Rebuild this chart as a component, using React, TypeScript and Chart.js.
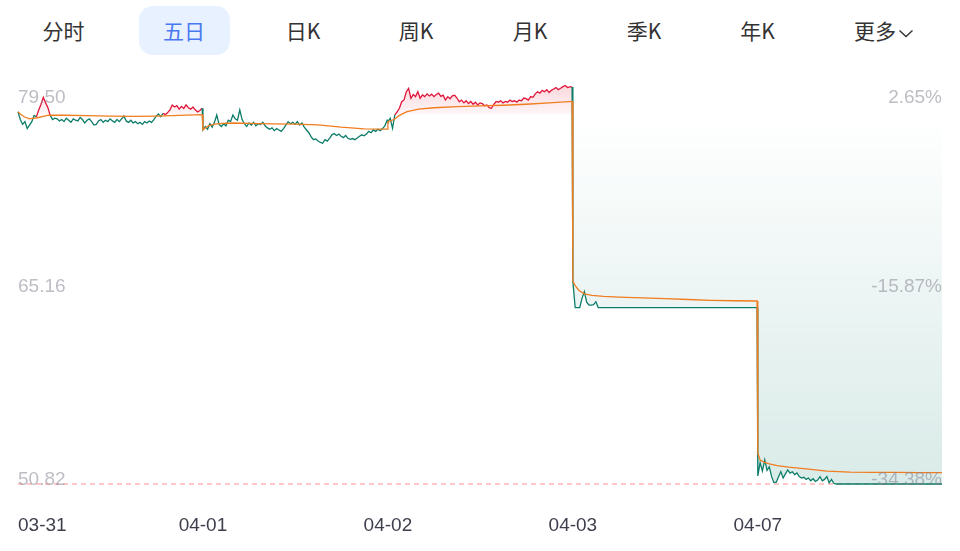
import React, { useEffect, useRef } from 'react';
import { Chart, registerables } from 'chart.js';

Chart.register(...registerables);

// ---------- data ----------
const tabLabels = ['分时', '五日', '日K', '周K', '月K', '季K', '年K', '更多'];
const activeTab = 1;

const dayLabels = ['03-31', '04-01', '04-02', '04-03', '04-07'];
const prevClose = 77.45;
const limitDown = 50.82;
const priceTicks = [79.5, 65.16, 50.82];
const priceTickLabels = ['79.50', '65.16', '50.82'];
const pctTickLabels = ['2.65%', '-15.87%', '-34.38%'];

const minutesPerDay = 241;
const sampleStep = 3; // one price every 3 minutes

const day1Prices = [
  77.61, 77.05, 76.70, 76.90, 76.40, 76.65, 76.90, 77.35, 77.25, 77.74, 78.15, 78.65, 78.25, 77.90, 77.35, 77.05, 77.15,
  77.10, 76.95, 77.05, 76.90, 77.15, 77.00, 76.85, 77.10,
  77.00, 76.95, 77.20, 77.05, 76.80, 77.00, 77.10, 76.90,
  76.65, 76.70, 76.95, 77.05, 76.85, 77.00, 76.90, 77.10,
  76.95, 76.85, 77.05, 76.90, 77.10, 77.30, 76.95, 76.85,
  77.00, 76.80, 76.90, 76.75, 76.85, 76.70, 76.90, 76.80,
  76.95, 76.85, 77.05, 77.30, 77.45, 77.25, 77.50, 77.40,
  77.55, 77.75, 78.10, 77.95, 78.05, 77.80, 78.00, 77.85,
  78.10, 77.90, 77.80, 77.95, 77.75, 77.60, 77.70, 77.86,
];

const day2Prices = [
  76.30, 76.55, 76.35, 76.75, 76.50, 76.85, 77.38, 76.70,
  76.55, 76.75, 76.60, 77.00, 76.90, 77.38, 77.10, 77.00,
  77.74, 77.05, 76.75, 76.55, 76.80, 76.65, 76.85, 76.60,
  76.75, 76.70, 76.85, 76.60, 76.45, 76.35, 76.45, 76.25,
  76.40, 76.30, 76.20, 76.40, 76.65, 76.90, 76.75, 76.85,
  76.70, 76.90, 76.65, 76.80, 76.50, 76.30, 76.10, 75.80,
  75.60, 75.65, 75.50, 75.40, 75.34, 75.60, 75.50, 75.70,
  75.95, 76.05, 75.90, 76.00, 75.85, 75.75, 75.90, 75.70,
  75.62, 75.68, 75.60, 75.72, 75.85, 75.95, 75.88, 76.00,
  76.20, 76.10, 76.30, 76.20, 76.35, 76.25, 76.40, 76.60,
  77.00,
];

const day3Prices = [
  76.90, 77.14, 76.42, 77.38, 77.60, 77.86, 78.33, 78.46,
  79.05, 79.30, 78.58, 78.85, 78.70, 79.05, 78.58, 78.82,
  78.70, 78.90, 78.75, 78.88, 78.70, 78.85, 78.95, 78.72,
  78.80, 78.46, 78.70, 78.55, 78.75, 78.80, 78.60, 78.33,
  78.45, 78.25, 78.40, 78.20, 78.35, 78.15, 78.30, 78.10,
  78.25, 78.20, 78.05, 78.10, 77.90, 77.86, 78.15, 78.35,
  78.30, 78.40, 78.25, 78.35, 78.30, 78.45, 78.35, 78.40,
  78.30, 78.45, 78.40, 78.60, 78.55, 78.45, 78.70, 78.65,
  78.90, 79.05, 78.95, 79.15, 79.05, 79.20, 79.00, 79.15,
  79.25, 79.35, 79.20, 79.30, 79.42, 79.50, 79.35, 79.40,
  79.40,
];

const day4Prices = [
  65.40, 63.52, 63.52, 63.52, 64.20, 64.66, 63.90, 63.70, 63.70, 63.72, 63.94, 63.52,
  63.52, 63.52, 63.52, 63.52, 63.52, 63.52, 63.52, 63.52, 63.52, 63.52,
  63.52, 63.52, 63.52, 63.52, 63.52, 63.52, 63.52, 63.52, 63.52, 63.52,
  63.52, 63.52, 63.52, 63.52, 63.52, 63.52, 63.52, 63.52, 63.52, 63.52,
  63.52, 63.52, 63.52, 63.52, 63.52, 63.52, 63.52, 63.52, 63.52, 63.52,
  63.52, 63.52, 63.52, 63.52, 63.52, 63.52, 63.52, 63.52, 63.52, 63.52,
  63.52, 63.52, 63.52, 63.52, 63.52, 63.52, 63.52, 63.52, 63.52, 63.52,
  63.52, 63.52, 63.52, 63.52, 63.52, 63.52, 63.52, 63.52, 63.52,
];

const day5Prices = [
  51.40, 52.35, 51.75, 52.55, 51.80, 52.05, 51.35, 50.92, 50.95, 51.35,
  51.71, 51.25, 51.55, 51.83, 51.60, 51.70, 51.50, 51.62, 51.35, 51.25,
  51.30, 51.15, 51.25, 51.05, 51.20, 51.00, 51.10, 51.35, 51.05, 51.15,
  51.35, 50.90, 51.15, 50.87,
  50.82, 50.82, 50.82, 50.82, 50.82, 50.82, 50.82, 50.82, 50.82, 50.82,
  50.82, 50.82, 50.82, 50.82, 50.82, 50.82, 50.82, 50.82, 50.82, 50.82,
  50.82, 50.82, 50.82, 50.82, 50.82, 50.82, 50.82, 50.82, 50.82, 50.82,
  50.82, 50.82, 50.82, 50.82, 50.82, 50.82, 50.82, 50.82, 50.82, 50.82,
  50.82, 50.82, 50.82, 50.82, 50.82, 50.82, 50.82,
];

// average price line, sampled at these minutes of each day
const avgMinutes = [0, 3, 8, 15, 25, 40, 60, 90, 120, 150, 180, 210, 240];
const day1Avg = [77.61, 77.45, 77.25, 77.10, 77.18, 77.36, 77.36, 77.33, 77.30, 77.28, 77.30, 77.35, 77.40];
const day2Avg = [76.30, 76.45, 76.62, 76.72, 76.78, 76.80, 76.78, 76.74, 76.72, 76.66, 76.50, 76.38, 76.36];
const day3Avg = [76.90, 76.95, 77.05, 77.35, 77.62, 77.80, 77.90, 77.98, 78.03, 78.08, 78.15, 78.25, 78.36];
const day4Avg = [65.40, 65.10, 64.75, 64.50, 64.40, 64.32, 64.27, 64.22, 64.16, 64.10, 64.04, 64.01, 63.99];
const day5Avg = [53.03, 52.55, 52.40, 52.27, 52.15, 52.04, 51.93, 51.75, 51.67, 51.66, 51.65, 51.64, 51.64];

const dayPrices = [day1Prices, day2Prices, day3Prices, day4Prices, day5Prices];
const dayAvgs = [day1Avg, day2Avg, day3Avg, day4Avg, day5Avg];

// ---------- styles ----------
const RED = '#e0163a';
const GREEN = '#0b7d68';
const ORANGE = '#f07d1f';
const TAB_CENTERS = [63.5, 184, 303, 416, 530, 644, 757.5, 884];

type Pt = { x: number; y: number };

function buildPricePoints(): Pt[] {
  const pts: Pt[] = [];
  dayPrices.forEach((arr, d) => {
    arr.forEach((v, i) => pts.push({ x: d * minutesPerDay + i * sampleStep, y: v }));
  });
  return pts;
}

function buildAvgPoints(): Pt[] {
  const pts: Pt[] = [];
  dayAvgs.forEach((arr, d) => {
    arr.forEach((v, i) => pts.push({ x: d * minutesPerDay + avgMinutes[i], y: v }));
  });
  return pts;
}

const labelPlugin = {
  id: 'axisLabels',
  afterDatasetsDraw(chart: any) {
    const { ctx, chartArea, scales } = chart;
    ctx.save();
    ctx.font = '19px "Liberation Sans", Arial, sans-serif';
    ctx.textBaseline = 'alphabetic';
    ctx.fillStyle = 'rgba(135,135,150,0.55)';
    priceTicks.forEach((v, i) => {
      const y = scales.y.getPixelForValue(v);
      const dy = i === 0 ? 17.5 : i === 1 ? 7 : 1;
      ctx.textAlign = 'left';
      ctx.fillText(priceTickLabels[i], chartArea.left, y + dy);
      ctx.textAlign = 'right';
      ctx.fillText(pctTickLabels[i], chartArea.right, y + dy);
    });
    ctx.fillStyle = '#3d3f4c';
    dayLabels.forEach((lab, d) => {
      const x = scales.x.getPixelForValue(d * minutesPerDay);
      ctx.textAlign = d === 0 ? 'left' : 'center';
      ctx.fillText(lab, x, chartArea.bottom + 47);
    });
    ctx.restore();
  },
};

export default function App() {
  const canvasRef = useRef<HTMLCanvasElement | null>(null);

  useEffect(() => {
    const canvas = canvasRef.current;
    if (!canvas) return;
    const pricePoints = buildPricePoints();
    const avgPoints = buildAvgPoints();
    const lastX = dayPrices.length * minutesPerDay - 1;

    const chart = new Chart(canvas, {
      type: 'line',
      data: {
        datasets: [
          {
            label: '均价',
            data: avgPoints,
            borderColor: ORANGE,
            borderWidth: 1.3,
            pointRadius: 0,
            fill: false,
            order: 0,
            clip: 4,
          } as any,
          {
            label: '价格',
            data: pricePoints,
            borderColor: GREEN,
            borderWidth: 1.3,
            pointRadius: 0,
            order: 1,
            clip: 4,
            segment: {
              borderColor: (c: any) =>
                (c.p0.parsed.y + c.p1.parsed.y) / 2 >= prevClose ? RED : GREEN,
            },
            fill: (c: any) => {
              const ch = c.chart;
              const area = ch.chartArea;
              if (!area || !ch.scales || !ch.scales.y) {
                return { value: prevClose, above: 'rgba(225,20,50,0.1)', below: 'rgba(0,120,100,0.08)' };
              }
              const baseY = ch.scales.y.getPixelForValue(prevClose);
              const g = ch.ctx;
              const up = g.createLinearGradient(0, area.top, 0, baseY);
              up.addColorStop(0, 'rgba(225,20,50,0.17)');
              up.addColorStop(1, 'rgba(225,20,50,0.04)');
              const down = g.createLinearGradient(0, baseY, 0, area.bottom);
              down.addColorStop(0, 'rgba(0,120,100,0)');
              down.addColorStop(1, 'rgba(0,120,100,0.15)');
              return { value: prevClose, above: up, below: down };
            },
          } as any,
          {
            label: '跌停',
            data: [
              { x: 0, y: limitDown },
              { x: lastX, y: limitDown },
            ],
            borderColor: '#ff8f8f',
            borderWidth: 1,
            borderDash: [5, 4],
            pointRadius: 0,
            fill: false,
            order: 2,
            clip: 4,
          } as any,
        ],
      },
      options: {
        animation: false,
        responsive: false,
        layout: { padding: { left: 18, right: 18, top: 25.5, bottom: 67 } },
        elements: { line: { tension: 0 } },
        scales: {
          x: { type: 'linear', min: 0, max: lastX, display: false },
          y: { type: 'linear', min: limitDown, max: priceTicks[0], display: false },
        },
        plugins: {
          legend: { display: false },
          tooltip: { enabled: false },
        },
      },
      plugins: [labelPlugin],
    });
    return () => chart.destroy();
  }, []);

  return (
    <div
      style={{
        position: 'fixed',
        left: 0,
        top: 0,
        width: 960,
        height: 551,
        background: '#ffffff',
        overflow: 'hidden',
      }}
    >
      <div
        style={{
          position: 'absolute',
          left: 139,
          top: 6,
          width: 91,
          height: 49,
          borderRadius: 14,
          background: '#e8f1ff',
        }}
      />
      {tabLabels.map((t, i) => (
        <div
          key={t}
          style={{
            position: 'absolute',
            left: TAB_CENTERS[i] - 60,
            width: 120,
            top: 6,
            height: 49,
            lineHeight: '49px',
            textAlign: 'center',
            fontSize: 21,
            fontFamily: '"Noto Sans CJK SC", "Noto Sans", sans-serif',
            color: i === activeTab ? '#4a78f0' : '#333333',
            whiteSpace: 'nowrap',
          }}
        >
          {t}
          {i === tabLabels.length - 1 && (
            <svg width="16" height="9" style={{ marginLeft: 2, verticalAlign: 'middle' }}>
              <polyline points="1.5,1.5 8,7.5 14.5,1.5" fill="none" stroke="#333333" strokeWidth="1.4" />
            </svg>
          )}
        </div>
      ))}
      <canvas
        ref={canvasRef}
        width={960}
        height={491}
        style={{ position: 'absolute', left: 0, top: 60, width: 960, height: 491 }}
      />
    </div>
  );
}
